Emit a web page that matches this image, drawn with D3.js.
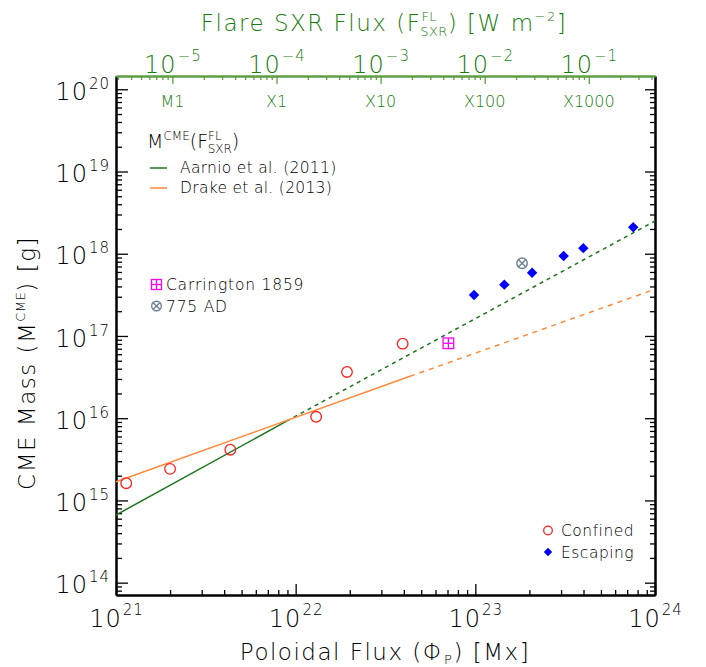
<!DOCTYPE html>
<html>
<head>
<meta charset="utf-8">
<script src="https://cdn.jsdelivr.net/npm/d3@7"></script>
<style>
  body { margin: 0; background: #fff; }
  svg { font-family: "DejaVu Sans", sans-serif; font-weight: 200; }
</style>
</head>
<body>
<script>
// poloidal flux vs CME mass, confined / escaping events
var confinedFlux = [1.14e21, 2.0e21, 4.33e21, 1.30e22, 1.93e22, 3.94e22];
var confinedMass = [1.62e15, 2.42e15, 4.14e15, 1.04e16, 3.65e16, 8.06e16];

var escapingFlux = [9.84e22, 1.45e23, 2.07e23, 3.10e23, 3.99e23, 7.57e23];
var escapingMass = [3.15e17, 4.21e17, 5.89e17, 9.40e17, 1.17e18, 2.10e18];

var carringtonPt = [7.08e22, 8.15e16];
var ad775Pt = [1.82e23, 7.66e17];

// fit lines M(F_SXR), solid over the fitted range and dashed beyond
var aarnioSolidFlux = [1e21, 8.9e21], aarnioSolidMass = [6.65e14, 9.2e15];
var aarnioDashFlux = [8.9e21, 1e24], aarnioDashMass = [9.2e15, 2.5e18];
var drakeSolidFlux = [1e21, 4.33e22], drakeSolidMass = [1.69e15, 3.23e16];
var drakeDashFlux = [4.33e22, 1e24], drakeDashMass = [3.23e16, 3.7e17];

// tick labels
var xMajor = [1e21, 1e22, 1e23, 1e24];
var yMajor = [1e14, 1e15, 1e16, 1e17, 1e18, 1e19, 1e20];
var topMajor = [1e-5, 1e-4, 1e-3, 1e-2, 1e-1];
var goesClass = ["M1", "X1", "X10", "X100", "X1000"];

drawChart();

function drawChart(){
var width = 706, height = 667;
var pL = 116, pR = 655, pT = 76, pB = 595;
var green = "#177d0c", greenAxis = "#5f9f45", greenLine = "#1c741c", orange = "#ff8a3c";
var ink = "#000";

var svg = d3.select("body").append("svg")
    .attr("width", width)
    .attr("height", height);

var x = d3.scaleLog().domain([1e21, 1e24]).range([pL, pR]);
var y = d3.scaleLog().domain([7.08e13, 1.45e20]).range([pB, pT]);
var xTop = d3.scaleLog().domain([2.87e-6, 0.4325]).range([pL, pR]);

function minors(lo, hi){
    var out = [];
    for (var k = Math.floor(Math.log10(lo)) - 1; k <= Math.ceil(Math.log10(hi)); k++){
        for (var m = 2; m <= 9; m++){
            var v = m * Math.pow(10, k);
            if (v > lo && v < hi) out.push(v);
        }
    }
    return out;
}

function supLabel(sel, base, sup, supSize, dy){
    sel.text(null);
    sel.append("tspan").text(base);
    sel.append("tspan").attr("font-size", supSize).attr("dy", dy).attr("dx", 1).text(sup);
}

function styleAxis(g, col){
    g.select(".domain").attr("stroke", col).attr("stroke-width", 2);
    g.selectAll(".tick line").attr("stroke", col).attr("stroke-width", 1.3);
}

// ---- left axis
var gl = svg.append("g").attr("transform", "translate(" + pL + ",0)");
gl.call(d3.axisLeft(y).tickValues(minors(7.08e13, 1.45e20)).tickFormat("").tickSizeInner(-6).tickSizeOuter(0));
styleAxis(gl, "#000");
var glM = svg.append("g").attr("transform", "translate(" + pL + ",0)");
glM.call(d3.axisLeft(y).tickValues(yMajor).tickSizeInner(-12).tickSizeOuter(0).tickPadding(6));
styleAxis(glM, "#000");
glM.selectAll(".tick text")
    .attr("font-size", 24).attr("fill", ink).attr("dy", "0.42em").attr("letter-spacing", 1)
    .attr("font-family", "DejaVu Sans").attr("font-weight", 200)
    .each(function(d){ supLabel(d3.select(this), "10", Math.round(Math.log10(d)), 15, -11); });

// ---- right axis
var gr = svg.append("g").attr("transform", "translate(" + pR + ",0)");
gr.call(d3.axisRight(y).tickValues(minors(7.08e13, 1.45e20)).tickFormat("").tickSizeInner(-5).tickSizeOuter(0));
styleAxis(gr, "#000");
var grM = svg.append("g").attr("transform", "translate(" + pR + ",0)");
grM.call(d3.axisRight(y).tickValues(yMajor).tickFormat("").tickSizeInner(-10).tickSizeOuter(0));
styleAxis(grM, "#000");

// ---- bottom axis
var gb = svg.append("g").attr("transform", "translate(0," + pB + ")");
gb.call(d3.axisBottom(x).tickValues(minors(1e21, 1e24)).tickFormat("").tickSizeInner(-5).tickSizeOuter(0));
styleAxis(gb, "#000");
var gbM = svg.append("g").attr("transform", "translate(0," + pB + ")");
gbM.call(d3.axisBottom(x).tickValues(xMajor).tickSizeInner(-11).tickSizeOuter(0).tickPadding(9));
styleAxis(gbM, "#000");
gbM.selectAll(".tick text")
    .attr("font-size", 24).attr("fill", ink).attr("dy", "0.95em").attr("letter-spacing", 1)
    .attr("font-family", "DejaVu Sans").attr("font-weight", 200)
    .each(function(d){ supLabel(d3.select(this), "10", Math.round(Math.log10(d)), 15, -12); });

// ---- top axis (flare flux)
var gt = svg.append("g").attr("transform", "translate(0," + pT + ")");
gt.call(d3.axisTop(xTop).tickValues(minors(2.87e-6, 0.4325)).tickFormat("").tickSizeInner(-4).tickSizeOuter(0));
styleAxis(gt, greenAxis);
var gtM = svg.append("g").attr("transform", "translate(0," + pT + ")");
gtM.call(d3.axisTop(xTop).tickValues(topMajor).tickSizeInner(-8).tickSizeOuter(0).tickPadding(3));
styleAxis(gtM, greenAxis);
gtM.selectAll(".tick text")
    .attr("font-size", 24).attr("fill", green).attr("dy", "-0.02em").attr("letter-spacing", 1)
    .attr("font-family", "DejaVu Sans").attr("font-weight", 200)
    .each(function(d){ supLabel(d3.select(this), "10", "\u2212" + Math.round(-Math.log10(d)), 15, -12); });

// GOES classes inside the plot
svg.selectAll(".goes").data(topMajor).enter().append("text")
    .attr("class", "goes")
    .attr("x", function(d){ return xTop(d); })
    .attr("y", 107)
    .attr("text-anchor", "middle")
    .attr("font-size", 16)
    .attr("fill", green)
    .text(function(d, i){ return goesClass[i]; });

// ---- titles
var tt = svg.append("text").attr("x", 384).attr("y", 31).attr("text-anchor", "middle")
    .attr("font-size", 23).attr("letter-spacing", 1.5).attr("fill", green);
tt.append("tspan").text("Flare SXR Flux (F");
tt.append("tspan").attr("font-size", 13).attr("dy", -10).attr("letter-spacing", 0.5).text("FL");
tt.append("tspan").attr("font-size", 13).attr("dy", 15).attr("dx", -17).attr("letter-spacing", 0.5).text("SXR");
tt.append("tspan").attr("dy", -5).text(") [W m");
tt.append("tspan").attr("font-size", 13).attr("dy", -10).text("\u22122");
tt.append("tspan").attr("dy", 10).text("]");

var xt = svg.append("text").attr("x", 385).attr("y", 660).attr("text-anchor", "middle")
    .attr("font-size", 23).attr("letter-spacing", 1.5).attr("fill", ink);
xt.append("tspan").text("Poloidal Flux (\u03A6");
xt.append("tspan").attr("font-size", 13).attr("dy", 4).text("P");
xt.append("tspan").attr("dy", -4).text(") [Mx]");

var yt = svg.append("text").attr("transform", "translate(35,363) rotate(-90)").attr("text-anchor", "middle")
    .attr("font-size", 23).attr("letter-spacing", 1.5).attr("fill", ink);
yt.append("tspan").text("CME Mass (M");
yt.append("tspan").attr("font-size", 13).attr("dy", -10).attr("letter-spacing", 0.5).text("CME");
yt.append("tspan").attr("dy", 10).text(") [g]");

// ---- fit lines
var line = d3.line().x(function(d){ return x(d[0]); }).y(function(d){ return y(d[1]); });
function fit(fx, fm, col, dash){
    svg.append("path")
        .datum(d3.zip(fx, fm))
        .attr("d", line)
        .attr("fill", "none")
        .attr("stroke", col)
        .attr("stroke-width", 1.5)
        .attr("stroke-dasharray", dash);
}
fit(aarnioSolidFlux, aarnioSolidMass, greenLine, null);
fit(aarnioDashFlux, aarnioDashMass, greenLine, "4,4");
fit(drakeSolidFlux, drakeSolidMass, orange, null);
fit(drakeDashFlux, drakeDashMass, orange, "5,5");

// ---- points
svg.selectAll(".conf").data(d3.zip(confinedFlux, confinedMass)).enter().append("circle")
    .attr("class", "conf")
    .attr("cx", function(d){ return x(d[0]); })
    .attr("cy", function(d){ return y(d[1]); })
    .attr("r", 5.3)
    .attr("fill", "none").attr("stroke", "#ff2020").attr("stroke-width", 1.3);

var diamond = d3.symbol().type(d3.symbolDiamond2).size(70);
svg.selectAll(".esc").data(d3.zip(escapingFlux, escapingMass)).enter().append("path")
    .attr("class", "esc")
    .attr("transform", function(d){ return "translate(" + x(d[0]) + "," + y(d[1]) + ")"; })
    .attr("d", diamond)
    .attr("fill", "#0000ff");

function carringtonMark(cx, cy, s){
    var g = svg.append("g").attr("transform", "translate(" + cx + "," + cy + ")")
        .attr("stroke", "#ff00ff").attr("stroke-width", 1.3).attr("fill", "none");
    g.append("rect").attr("x", -s).attr("y", -s).attr("width", 2 * s).attr("height", 2 * s);
    g.append("line").attr("x1", -s).attr("x2", s).attr("y1", 0).attr("y2", 0);
    g.append("line").attr("x1", 0).attr("x2", 0).attr("y1", -s).attr("y2", s);
}
function adMark(cx, cy, r){
    var g = svg.append("g").attr("transform", "translate(" + cx + "," + cy + ")")
        .attr("stroke", "#6f8190").attr("stroke-width", 1.4).attr("fill", "none");
    g.append("circle").attr("r", r);
    var k = r * 0.7;
    g.append("line").attr("x1", -k).attr("y1", -k).attr("x2", k).attr("y2", k);
    g.append("line").attr("x1", -k).attr("y1", k).attr("x2", k).attr("y2", -k);
}
carringtonMark(x(carringtonPt[0]), y(carringtonPt[1]), 5.3);
adMark(x(ad775Pt[0]), y(ad775Pt[1]), 5.2);

// ---- legends
var lg = svg.append("text").attr("x", 147).attr("y", 148).attr("font-size", 19).attr("fill", ink);
lg.append("tspan").text("M");
lg.append("tspan").attr("font-size", 12).attr("dy", -8).text("CME");
lg.append("tspan").attr("dy", 8).text("(F");
lg.append("tspan").attr("font-size", 12).attr("dy", -8).text("FL");
lg.append("tspan").attr("font-size", 12).attr("dy", 13).attr("dx", -14).text("SXR");
lg.append("tspan").attr("dy", -5).text(")");

var fits = [["Aarnio et al. (2011)", greenLine, 168], ["Drake et al. (2013)", orange, 188]];
fits.forEach(function(f){
    svg.append("line").attr("x1", 150).attr("x2", 167).attr("y1", f[2]).attr("y2", f[2])
        .attr("stroke", f[1]).attr("stroke-width", 1.5);
    svg.append("text").attr("x", 180).attr("y", f[2] + 5).attr("font-size", 15.5).attr("letter-spacing", 0.3)
        .attr("fill", ink).text(f[0]);
});

carringtonMark(156.5, 284.5, 5);
svg.append("text").attr("x", 166).attr("y", 290).attr("font-size", 15.5).attr("letter-spacing", 0.8)
    .attr("fill", ink).text("Carrington 1859");
adMark(156.5, 306, 4.8);
svg.append("text").attr("x", 166).attr("y", 312).attr("font-size", 15.5).attr("letter-spacing", 0.8)
    .attr("fill", ink).text("775 AD");

svg.append("circle").attr("cx", 548).attr("cy", 530.5).attr("r", 4.3)
    .attr("fill", "none").attr("stroke", "#ff2020").attr("stroke-width", 1.3);
svg.append("text").attr("x", 561).attr("y", 536).attr("font-size", 15.5).attr("letter-spacing", 0.5)
    .attr("fill", ink).text("Confined");
svg.append("path").attr("transform", "translate(548,552)").attr("d", d3.symbol().type(d3.symbolDiamond2).size(45)).attr("fill", "#0000ff");
svg.append("text").attr("x", 561).attr("y", 558).attr("font-size", 15.5).attr("letter-spacing", 0.5)
    .attr("fill", ink).text("Escaping");
}
</script>
</body>
</html>
